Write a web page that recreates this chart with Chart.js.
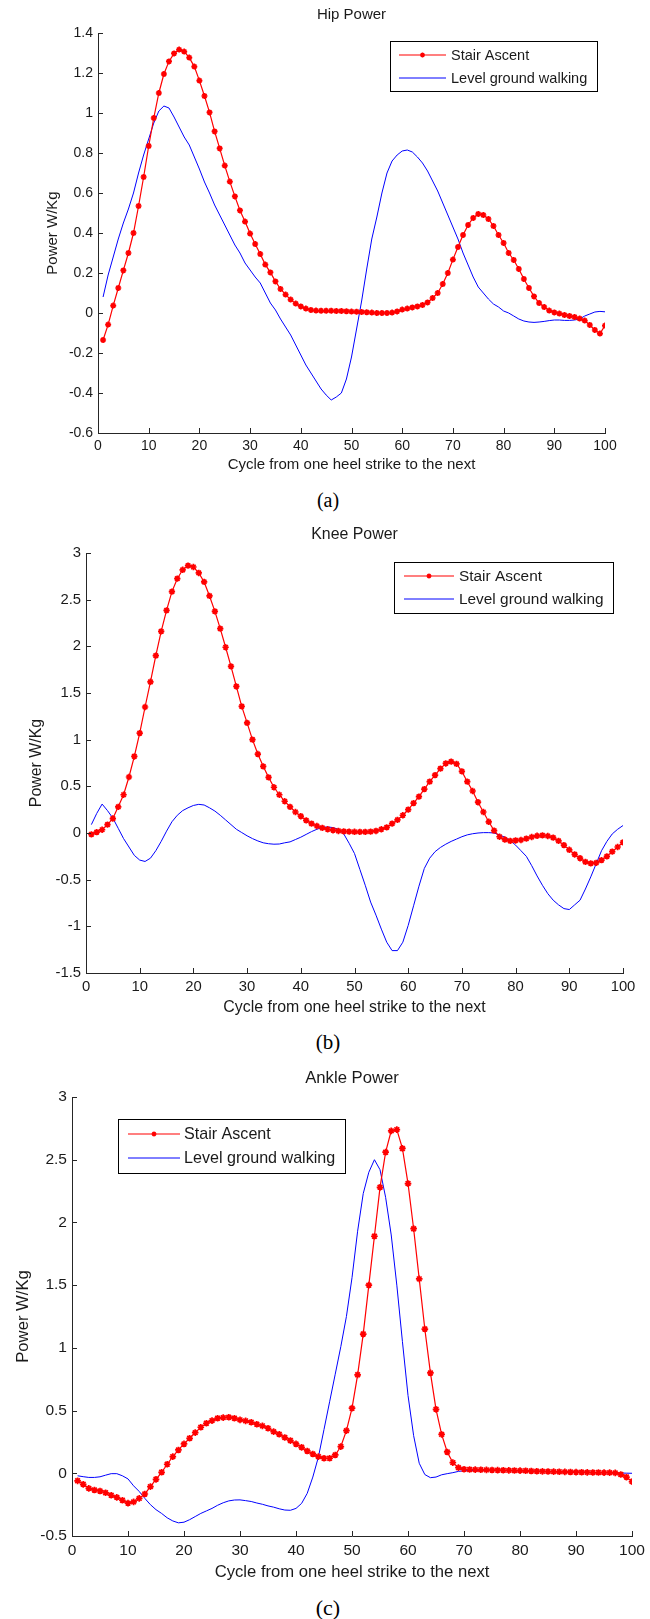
<!DOCTYPE html>
<html>
<head>
<meta charset="utf-8">
<title>Hip, knee and ankle power</title>
<script src="https://cdn.jsdelivr.net/npm/chart.js@4.4.1/dist/chart.umd.min.js"></script>
<style>
  body { margin: 0; background: #fff; }
  #page { position: relative; width: 650px; height: 1619px; overflow: hidden; }
  canvas { position: absolute; left: 0; }
  .cap { position: absolute; left: 0; width: 656px; text-align: center; font-family: "Liberation Serif", "Times New Roman", serif; color: #000; }
</style>
</head>
<body>
<div id="page">
  <canvas id="hip" width="650" height="480" style="top:0px"></canvas>
  <div class="cap" style="top:489px;font-size:20px;line-height:22px">(a)</div>
  <canvas id="knee" width="650" height="500" style="top:520px"></canvas>
  <div class="cap" style="top:1031px;font-size:21px;line-height:23px">(b)</div>
  <canvas id="ankle" width="650" height="530" style="top:1060px"></canvas>
  <div class="cap" style="top:1596px;font-size:22px;line-height:24px">(c)</div>
</div>
<script>
// percent of gait cycle, one sample per point
const cycle = Array.from({ length: 100 }, (_, i) => i + 1);
const xTicks = [0, 10, 20, 30, 40, 50, 60, 70, 80, 90, 100];
const hipTicks = [-0.6, -0.4, -0.2, 0, 0.2, 0.4, 0.6, 0.8, 1, 1.2, 1.4];
const kneeTicks = [-1.5, -1, -0.5, 0, 0.5, 1, 1.5, 2, 2.5, 3];
const ankleTicks = [-0.5, 0, 0.5, 1, 1.5, 2, 2.5, 3];

const hipStair = [
  -0.135, -0.058, 0.037, 0.125, 0.213, 0.30, 0.40, 0.535, 0.68, 0.835,
  0.975, 1.10, 1.195, 1.258, 1.298, 1.317, 1.307, 1.277, 1.232, 1.162,
  1.085, 1.003, 0.908, 0.823, 0.737, 0.657, 0.583, 0.513, 0.457, 0.397,
  0.345, 0.295, 0.242, 0.203, 0.158, 0.12, 0.092, 0.067, 0.047, 0.033,
  0.022, 0.015, 0.012, 0.011, 0.011, 0.011, 0.01, 0.01, 0.009, 0.007,
  0.006, 0.005, 0.004, 0.002, 0.0, 0.0, 0.0, 0.002, 0.008, 0.017,
  0.022, 0.028, 0.033, 0.04, 0.053, 0.075, 0.10, 0.145, 0.20, 0.267,
  0.33, 0.39, 0.44, 0.475, 0.495, 0.49, 0.47, 0.435, 0.39, 0.35,
  0.30, 0.265, 0.22, 0.17, 0.125, 0.083, 0.05, 0.03, 0.012, 0.003,
  -0.003, -0.01, -0.015, -0.02, -0.028, -0.038, -0.06, -0.085, -0.103, -0.063
];
const hipLevel = [
  0.08, 0.19, 0.28, 0.37, 0.45, 0.52, 0.60, 0.70, 0.79, 0.87,
  0.95, 1.01, 1.035, 1.025, 0.98, 0.93, 0.88, 0.84, 0.78, 0.72,
  0.655, 0.60, 0.54, 0.49, 0.44, 0.39, 0.34, 0.30, 0.25, 0.215,
  0.18, 0.15, 0.10, 0.05, 0.015, -0.03, -0.07, -0.11, -0.16, -0.21,
  -0.26, -0.30, -0.34, -0.38, -0.41, -0.435, -0.42, -0.40, -0.33, -0.22,
  -0.08, 0.06, 0.22, 0.37, 0.48, 0.60, 0.70, 0.76, 0.79, 0.81,
  0.815, 0.805, 0.78, 0.75, 0.71, 0.66, 0.61, 0.55, 0.49, 0.43,
  0.37, 0.30, 0.24, 0.18, 0.13, 0.10, 0.07, 0.045, 0.03, 0.01,
  0.0, -0.015, -0.03, -0.04, -0.045, -0.047, -0.045, -0.042, -0.038, -0.035,
  -0.035, -0.037, -0.037, -0.035, -0.03, -0.015, -0.005, 0.005, 0.008, 0.006
];
const kneeStair = [
  -0.015, 0.01, 0.035, 0.09, 0.155, 0.28, 0.41, 0.60, 0.82, 1.07,
  1.35, 1.62, 1.90, 2.16, 2.385, 2.586, 2.725, 2.82, 2.864, 2.85,
  2.786, 2.69, 2.54, 2.375, 2.19, 1.99, 1.786, 1.57, 1.357, 1.18,
  1.0, 0.846, 0.714, 0.596, 0.49, 0.41, 0.34, 0.28, 0.225, 0.18,
  0.136, 0.10, 0.075, 0.055, 0.04, 0.03, 0.022, 0.018, 0.015, 0.013,
  0.012, 0.012, 0.015, 0.022, 0.04, 0.06, 0.10, 0.14, 0.19, 0.25,
  0.32, 0.39, 0.47, 0.55, 0.62, 0.69, 0.745, 0.765, 0.74, 0.66,
  0.55, 0.45, 0.33, 0.225, 0.12, 0.025, -0.04, -0.07, -0.085, -0.08,
  -0.075, -0.06, -0.043, -0.03, -0.025, -0.032, -0.05, -0.085, -0.13, -0.18,
  -0.23, -0.27, -0.31, -0.325, -0.32, -0.29, -0.25, -0.2, -0.15, -0.1
];
const kneeLevel = [
  0.09, 0.21, 0.31, 0.24, 0.16, 0.05, -0.06, -0.15, -0.24, -0.29,
  -0.305, -0.27, -0.19, -0.09, 0.02, 0.12, 0.19, 0.24, 0.27, 0.295,
  0.307, 0.30, 0.27, 0.235, 0.19, 0.14, 0.09, 0.04, 0.005, -0.03,
  -0.06, -0.085, -0.105, -0.115, -0.12, -0.118, -0.105, -0.095, -0.07, -0.045,
  -0.015, 0.015, 0.04, 0.06, 0.065, 0.058, 0.04, -0.01, -0.11, -0.22,
  -0.39, -0.56, -0.74, -0.88, -1.03, -1.17, -1.26, -1.26, -1.17, -0.99,
  -0.78, -0.57, -0.38, -0.27, -0.2, -0.155, -0.12, -0.09, -0.065, -0.04,
  -0.02, -0.008, 0.0, 0.004, 0.004, 0.0, -0.02, -0.045, -0.08, -0.13,
  -0.19, -0.25, -0.35, -0.46, -0.56, -0.65, -0.72, -0.77, -0.81, -0.82,
  -0.77, -0.72, -0.6, -0.47, -0.33, -0.19, -0.09, -0.01, 0.04, 0.08
];
const ankleStair = [
  -0.06, -0.088, -0.12, -0.133, -0.141, -0.155, -0.175, -0.192, -0.215, -0.238,
  -0.228, -0.2, -0.165, -0.106, -0.048, 0.008, 0.072, 0.133, 0.186, 0.234,
  0.279, 0.324, 0.367, 0.399, 0.42, 0.439, 0.444, 0.447, 0.439, 0.426,
  0.418, 0.407, 0.391, 0.378, 0.359, 0.332, 0.311, 0.285, 0.261, 0.234,
  0.207, 0.178, 0.154, 0.133, 0.12, 0.12, 0.146, 0.213, 0.34, 0.519,
  0.785, 1.11, 1.50, 1.89, 2.28, 2.56, 2.73, 2.74, 2.59, 2.31,
  1.95, 1.55, 1.15, 0.80, 0.51, 0.31, 0.17, 0.085, 0.045, 0.032,
  0.03, 0.029, 0.028, 0.027, 0.026, 0.025, 0.024, 0.023, 0.022, 0.021,
  0.02, 0.018, 0.016, 0.015, 0.014, 0.013, 0.012, 0.011, 0.01, 0.009,
  0.008, 0.007, 0.006, 0.006, 0.005, 0.005, 0.003, -0.01, -0.03, -0.066
];
const ankleLevel = [
  -0.02, -0.027, -0.033, -0.033, -0.028, -0.015, -0.003, -0.003, -0.02, -0.045,
  -0.1, -0.145, -0.2, -0.25, -0.29, -0.32, -0.355, -0.38, -0.395, -0.39,
  -0.37, -0.345, -0.32, -0.3, -0.28, -0.255, -0.235, -0.22, -0.213, -0.212,
  -0.218, -0.225, -0.237, -0.247, -0.26, -0.27, -0.283, -0.293, -0.295, -0.28,
  -0.24, -0.16, -0.03, 0.13, 0.35, 0.57, 0.79, 1.01, 1.25, 1.56,
  1.93, 2.23, 2.4, 2.5, 2.42, 2.2, 1.9, 1.5, 1.05, 0.62,
  0.3, 0.08, -0.01, -0.035, -0.03, -0.012, -0.003, 0.005, 0.015, 0.02,
  0.022, 0.023, 0.023, 0.023, 0.022, 0.022, 0.021, 0.021, 0.02, 0.02,
  0.019, 0.018, 0.017, 0.016, 0.015, 0.014, 0.013, 0.012, 0.011, 0.01,
  0.009, 0.008, 0.007, 0.006, 0.005, 0.004, 0.003, 0.002, 0.001, 0.0
];

const FONT = '"Liberation Sans", Arial, sans-serif';
const TEXT = '#1a1a1a';
const AXIS = '#262626';

// matlab look: inward ticks, title above the axes, boxed legend
const matlabLook = {
  id: 'matlab',
  afterDraw(chart, args, o) {
    const ctx = chart.ctx;
    const a = chart.chartArea;
    const xs = chart.scales.x, ys = chart.scales.y;
    ctx.save();
    ctx.strokeStyle = AXIS;
    ctx.lineWidth = 1;
    ctx.beginPath();
    xs.ticks.forEach(t => {
      const px = Math.round(xs.getPixelForValue(t.value)) + 0.5;
      ctx.moveTo(px, a.bottom);
      ctx.lineTo(px, a.bottom - o.tick);
    });
    ys.ticks.forEach(t => {
      const py = Math.round(ys.getPixelForValue(t.value)) + 0.5;
      ctx.moveTo(a.left, py);
      ctx.lineTo(a.left + o.tick, py);
    });
    ctx.stroke();

    ctx.fillStyle = TEXT;
    ctx.font = (15 * o.s).toFixed(1) + 'px ' + FONT;
    ctx.textAlign = 'center';
    ctx.textBaseline = 'middle';
    ctx.fillText(o.title, (a.left + a.right) / 2, o.titleY);

    const lg = o.legend;
    ctx.fillStyle = '#fff';
    ctx.fillRect(lg.x, lg.y, lg.w, lg.h);
    ctx.strokeStyle = '#000';
    ctx.lineWidth = 1;
    ctx.strokeRect(lg.x + 0.5, lg.y + 0.5, lg.w, lg.h);
    ctx.font = (14.5 * o.s).toFixed(1) + 'px ' + FONT;
    ctx.textAlign = 'left';
    chart.data.datasets.forEach((ds, i) => {
      const y = lg.y + lg.rows[i];
      const x1 = lg.x + lg.lineX, x2 = x1 + lg.lineLen;
      ctx.strokeStyle = ds.borderColor;
      ctx.lineWidth = ds.borderWidth;
      ctx.beginPath();
      ctx.moveTo(x1, y);
      ctx.lineTo(x2, y);
      ctx.stroke();
      if (ds.pointRadius) {
        ctx.fillStyle = ds.borderColor;
        ctx.lineWidth = 1.4;
        Chart.helpers.drawPoint(ctx, { pointStyle: 'star', radius: 2.4, borderWidth: 1.4, rotation: 0 }, (x1 + x2) / 2, y);
      }
      ctx.fillStyle = TEXT;
      ctx.fillText(ds.label, lg.x + lg.textX, y + 0.5);
    });
    ctx.restore();
  }
};

function fmt(v) {
  return String(Number(Number(v).toFixed(2)));
}

function makePanel(id, p) {
  const canvas = document.getElementById(id);
  const s = p.s;
  const tickFont = { family: FONT, size: 14 * s };
  const labFont = { family: FONT, size: 15 * s };
  const lh = labFont.size * 1.2;
  return new Chart(canvas, {
    type: 'line',
    data: {
      datasets: [
        {
          label: 'Stair Ascent',
          data: cycle.map((x, i) => ({ x, y: p.stair[i] })),
          borderColor: '#ff0000',
          backgroundColor: '#ff0000',
          borderWidth: 1.2,
          pointStyle: 'star',
          pointRadius: 3 * s,
          pointBorderWidth: 1.7,
          pointBorderColor: '#ff0000',
          pointBackgroundColor: '#ff0000',
          tension: 0
        },
        {
          label: 'Level ground walking',
          data: cycle.map((x, i) => ({ x, y: p.level[i] })),
          borderColor: '#0000ff',
          borderWidth: 1,
          pointRadius: 0,
          tension: 0
        }
      ]
    },
    options: {
      responsive: false,
      animation: false,
      devicePixelRatio: 1,
      layout: { padding: { left: 0, top: p.area.top, right: canvas.width - p.area.right, bottom: 0 } },
      plugins: {
        legend: { display: false },
        title: { display: false },
        tooltip: { enabled: false },
        matlab: { s, tick: 5, title: p.title, titleY: p.titleY, legend: p.legend }
      },
      scales: {
        x: {
          type: 'linear',
          min: 0,
          max: 100,
          grid: { display: false, drawTicks: false },
          border: { color: AXIS, width: 1 },
          ticks: { font: tickFont, color: TEXT, padding: 5, maxRotation: 0, autoSkip: false, callback: fmt },
          afterBuildTicks: sc => { sc.ticks = xTicks.map(v => ({ value: v })); },
          afterFit: sc => { sc.height = canvas.height - p.area.bottom; },
          title: {
            display: true,
            text: 'Cycle from one heel strike to the next',
            font: labFont,
            color: TEXT,
            padding: { top: 0, bottom: canvas.height - p.xTitleY - lh / 2 }
          }
        },
        y: {
          type: 'linear',
          min: p.yTicks[0],
          max: p.yTicks[p.yTicks.length - 1],
          grid: { display: false, drawTicks: false },
          border: { color: AXIS, width: 1 },
          ticks: { font: tickFont, color: TEXT, padding: 5, autoSkip: false, callback: fmt },
          afterBuildTicks: sc => { sc.ticks = p.yTicks.map(v => ({ value: v })); },
          afterFit: sc => { sc.width = p.area.left; },
          title: {
            display: true,
            text: 'Power W/Kg',
            font: labFont,
            color: TEXT,
            padding: { top: p.yTitleX - lh / 2, bottom: 0 }
          }
        }
      }
    },
    plugins: [matlabLook]
  });
}

makePanel('hip', {
  s: 1, stair: hipStair, level: hipLevel, yTicks: hipTicks, title: 'Hip Power',
  area: { left: 98, right: 605, top: 33, bottom: 433 },
  titleY: 15, xTitleY: 465, yTitleX: 53,
  legend: { x: 390, y: 41, w: 207, h: 50, rows: [14, 37], lineX: 9, lineLen: 47, textX: 61 }
});
makePanel('knee', {
  s: 1.06, stair: kneeStair, level: kneeLevel, yTicks: kneeTicks, title: 'Knee Power',
  area: { left: 86, right: 623, top: 33, bottom: 453 },
  titleY: 15, xTitleY: 488, yTitleX: 37,
  legend: { x: 394, y: 42, w: 219, h: 51, rows: [14, 37], lineX: 10, lineLen: 50, textX: 65 }
});
makePanel('ankle', {
  s: 1.11, stair: ankleStair, level: ankleLevel, yTicks: ankleTicks, title: 'Ankle Power',
  area: { left: 72, right: 633, top: 37, bottom: 476 },
  titleY: 18, xTitleY: 512, yTitleX: 23,
  legend: { x: 118, y: 59, w: 227, h: 54, rows: [15, 39], lineX: 10, lineLen: 52, textX: 66 }
});
</script>
</body>
</html>
